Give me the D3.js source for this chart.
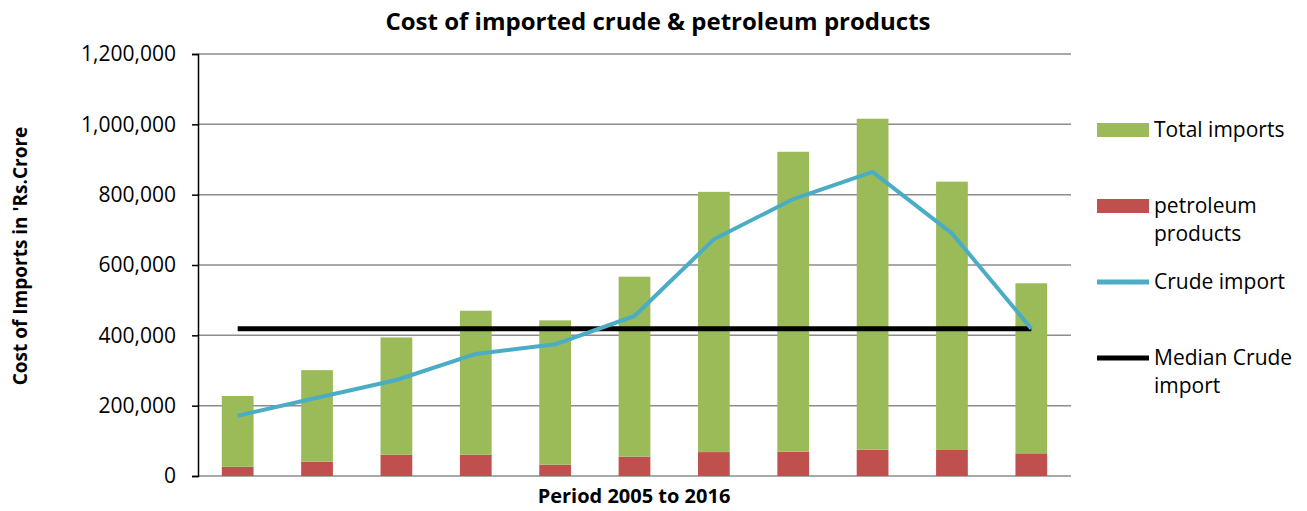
<!DOCTYPE html>
<html lang="en">

<head>
  <meta charset="utf-8">
  <title>Cost of imported crude & petroleum products</title>
  <script src="https://d3js.org/d3.v7.min.js"></script>
  <style>
    body { margin: 0; background: #fff; }
    text { font-family: "Open Sans", Lato, sans-serif; fill: #000; }
  </style>
</head>

<body>
  <div id="chart"></div>
  <script>
    // values (Rs. crore)
    var years = ['2005', '2006', '2007', '2008', '2009', '2010', '2011', '2012', '2013', '2014', '2015'];
    var petroleumProducts = [26500, 40800, 60700, 60700, 32200, 55000, 68000, 69000, 75000, 74000, 64500];
    var totalImports = [201000, 260200, 333300, 409300, 410400, 511800, 740000, 853000, 941000, 763000, 483500];
    var crudeImport = [171500, 222700, 273000, 347000, 374500, 455000, 673000, 787600, 865000, 690000, 419000];
    var yTicks = [0, 200000, 400000, 600000, 800000, 1000000, 1200000];

    var w = 1307, h = 511;
    var margin = {top: 54, right: 236, bottom: 35, left: 198};
    var innerW = w - margin.left - margin.right,
      innerH = h - margin.top - margin.bottom;

    var svg = d3.select('#chart').append('svg')
        .attr('width', w)
        .attr('height', h);

    var g = svg.append('g')
        .attr('transform', 'translate(' + [margin.left, margin.top] + ')');

    var x = d3.scaleBand().domain(years).range([0, innerW]).paddingInner(0.6).paddingOuter(0.3);
    var y = d3.scaleLinear().domain([0, 1200000]).range([innerH, 0]);

    // gridlines
    g.selectAll('.grid')
      .data(yTicks)
      .enter().append('line')
        .attr('class', 'grid')
        .attr('x1', 0).attr('x2', innerW)
        .attr('y1', function(d){return y(d)}).attr('y2', function(d){return y(d)})
        .attr('stroke', '#8c8c8c')
        .attr('stroke-width', 1.5);

    // stacked bars
    var table = years.map(function(k, i) {
      return {year: k, petroleum: petroleumProducts[i], total: totalImports[i]};
    });
    var stack = d3.stack().keys(['petroleum', 'total'])(table);
    var colors = {petroleum: '#c0504d', total: '#9bbb59'};

    g.selectAll('.series')
      .data(stack)
      .enter().append('g')
        .attr('class', 'series')
        .attr('fill', function(d){return colors[d.key]})
      .selectAll('rect')
      .data(function(d){return d})
      .enter().append('rect')
        .attr('x', function(d){return x(d.data.year)})
        .attr('width', x.bandwidth())
        .attr('y', function(d){return y(d[1])})
        .attr('height', function(d){return y(d[0]) - y(d[1])});

    // y axis
    var yAxis = d3.axisLeft(y).tickValues(yTicks).tickSize(6).tickPadding(16)
      .tickFormat(d3.format(','));
    var ya = g.append('g').call(yAxis);
    ya.select('.domain').attr('stroke', '#000').attr('stroke-width', 1.5);
    ya.selectAll('.tick line').attr('stroke', '#000').attr('stroke-width', 1.5);
    ya.selectAll('.tick text').style('font-size', '21px').attr('font-family', null);

    var cx = function(i){return x(years[i]) + x.bandwidth() / 2};

    // median crude import
    var median = d3.median(crudeImport);
    g.append('line')
      .attr('x1', cx(0)).attr('x2', cx(years.length - 1))
      .attr('y1', y(median)).attr('y2', y(median))
      .attr('stroke', '#000').attr('stroke-width', 5);

    // crude import line
    var line = d3.line()
      .x(function(d, i){return cx(i)})
      .y(function(d){return y(d)});
    g.append('path')
      .datum(crudeImport)
      .attr('d', line)
      .attr('fill', 'none')
      .attr('stroke', '#4bacc6')
      .attr('stroke-width', 4)
      .attr('stroke-linejoin', 'round');

    // titles
    svg.append('text')
      .attr('x', 658).attr('y', 30)
      .attr('text-anchor', 'middle')
      .style('font-size', '24px').style('font-weight', 'bold')
      .text('Cost of imported crude & petroleum products');

    svg.append('text')
      .attr('x', 634).attr('y', 503)
      .attr('text-anchor', 'middle')
      .style('font-size', '20px').style('font-weight', 'bold')
      .text('Period 2005 to 2016');

    svg.append('text')
      .attr('transform', 'translate(27,256) rotate(-90)')
      .attr('text-anchor', 'middle')
      .style('font-size', '19px').style('font-weight', 'bold')
      .text("Cost of Imports in 'Rs.Crore");

    // legend
    var legend = [
      {label: ['Total imports'], color: '#9bbb59', type: 'rect', y: 130},
      {label: ['petroleum', 'products'], color: '#c0504d', type: 'rect', y: 206},
      {label: ['Crude import'], color: '#4bacc6', type: 'line', y: 282},
      {label: ['Median Crude', 'import'], color: '#000', type: 'line', y: 358}
    ];
    var lg = svg.selectAll('.legend')
      .data(legend)
      .enter().append('g')
        .attr('class', 'legend')
        .attr('transform', function(d){return 'translate(1097,' + d.y + ')'});
    lg.filter(function(d){return d.type === 'rect'}).append('rect')
      .attr('x', 0).attr('y', -7).attr('width', 52).attr('height', 14)
      .attr('fill', function(d){return d.color});
    lg.filter(function(d){return d.type === 'line'}).append('line')
      .attr('x1', 0).attr('x2', 52).attr('y1', 0).attr('y2', 0)
      .attr('stroke', function(d){return d.color})
      .attr('stroke-width', 5);
    lg.append('text')
      .attr('x', 57).attr('y', 7)
      .style('font-size', '21px')
      .selectAll('tspan')
      .data(function(d){return d.label})
      .enter().append('tspan')
        .attr('x', 57)
        .attr('dy', function(d, i){return i ? 28 : 0})
        .text(function(d){return d});
  </script>
</body>

</html>
